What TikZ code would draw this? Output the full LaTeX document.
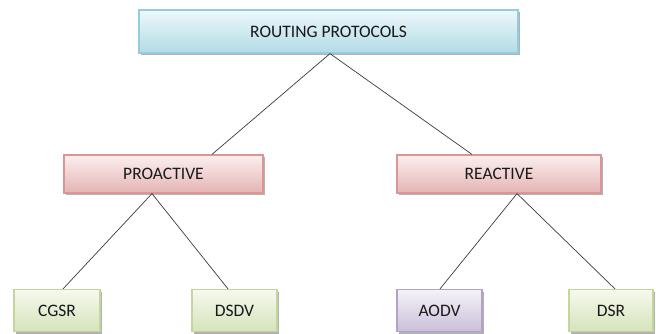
\documentclass[tikz,border=0pt]{standalone}
\usepackage{fontspec}
\setmainfont{Carlito}
\usetikzlibrary{calc,shadows}
\definecolor{bluetop}{HTML}{EEF8FB}
\definecolor{bluebot}{HTML}{B2DBE6}
\definecolor{blueedge}{HTML}{93CDDD}
\definecolor{redtop}{HTML}{FBEFEF}
\definecolor{redbot}{HTML}{E4B4B3}
\definecolor{rededge}{HTML}{D99694}
\definecolor{greentop}{HTML}{F6F9EF}
\definecolor{greenbot}{HTML}{D5E3BA}
\definecolor{greenedge}{HTML}{C3D69B}
\definecolor{purptop}{HTML}{F5F2F8}
\definecolor{purpbot}{HTML}{CABFD9}
\definecolor{purpedge}{HTML}{B3A2C7}
\definecolor{linec}{HTML}{3A3A3A}
\tikzset{
  box/.style={rectangle, line width=1.2pt, inner sep=0pt, font=\fontsize{17.5}{20}\selectfont, text=black!90,
    drop shadow={shadow xshift=2pt, shadow yshift=-2pt, fill=black, opacity=0.3}},
  bluebox/.style={box, draw=blueedge, top color=bluetop, bottom color=bluebot},
  redbox/.style={box, draw=rededge, top color=redtop, bottom color=redbot},
  greenbox/.style={box, draw=greenedge, top color=greentop, bottom color=greenbot},
  purpbox/.style={box, draw=purpedge, top color=purptop, bottom color=purpbot},
  conn/.style={draw=linec, line width=0.7pt}
}
\begin{document}
\begin{tikzpicture}[x=1pt,y=-1pt]
\useasboundingbox (0,0) rectangle (656,333);
\node[bluebox, minimum width=379pt, minimum height=43pt] (root) at (328.5,31.5) {ROUTING PROTOCOLS};
\node[redbox, minimum width=199pt, minimum height=38pt] (pro) at (163.5,174) {PROACTIVE};
\node[redbox, minimum width=204pt, minimum height=38pt] (rea) at (499,174) {REACTIVE};
\node[greenbox, minimum width=86pt, minimum height=42pt] (cgsr) at (57,310.5) {CGSR};
\node[greenbox, minimum width=85pt, minimum height=42pt] (dsdv) at (234.5,310.5) {DSDV};
\node[purpbox, minimum width=85pt, minimum height=42pt] (aodv) at (439.5,310.5) {AODV};
\node[greenbox, minimum width=84pt, minimum height=42pt] (dsr) at (611,310.5) {DSR};
\coordinate (rootB) at ($(root.south)+(1.5,0)$);
\coordinate (proT) at ($(pro.north)+(48.5,0)$);
\coordinate (proB) at ($(pro.south)+(-11.5,0)$);
\coordinate (reaT) at ($(rea.north)+(-27,0)$);
\coordinate (reaB) at ($(rea.south)+(18,0)$);
\coordinate (cgsrT) at ($(cgsr.north)+(6,0)$);
\coordinate (dsdvT) at ($(dsdv.north)+(-6.5,0)$);
\coordinate (aodvT) at ($(aodv.north)+(0.5,0)$);
\coordinate (dsrT) at ($(dsr.north)+(4,0)$);
\draw[conn] (rootB) -- (proT);
\draw[conn] (rootB) -- (reaT);
\draw[conn] (proB) -- (cgsrT);
\draw[conn] (proB) -- (dsdvT);
\draw[conn] (reaB) -- (aodvT);
\draw[conn] (reaB) -- (dsrT);
\end{tikzpicture}
\end{document}
